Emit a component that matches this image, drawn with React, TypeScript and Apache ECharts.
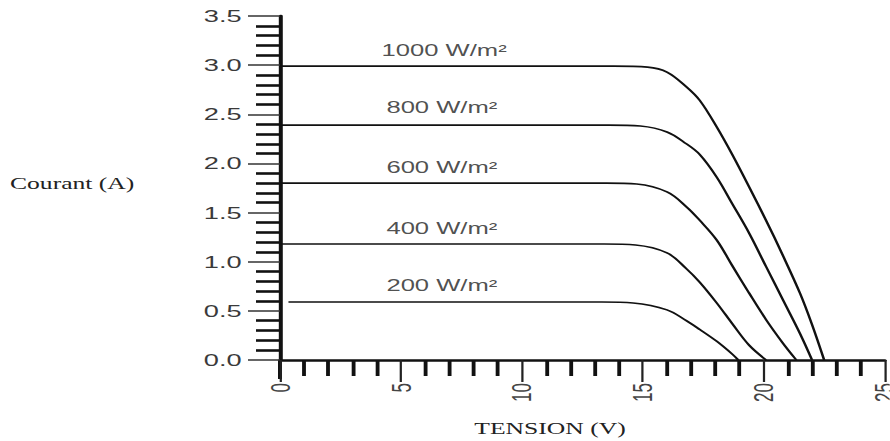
import React, { useEffect, useRef } from "react";
import * as echarts from "echarts";

const seriesNames = ["1000 W/m²", "800 W/m²", "600 W/m²", "400 W/m²", "200 W/m²"];
const curve1000 = [[0, 2.99], [13.8, 2.99], [15.2, 2.98], [16.0, 2.93], [16.8, 2.78], [17.36, 2.64], [18.06, 2.37], [18.7, 2.09], [19.4, 1.76], [20.1, 1.42], [20.8, 1.06], [21.5, 0.68], [22.0, 0.36], [22.5, 0]];
const curve800 = [[0, 2.39], [13.6, 2.39], [14.9, 2.38], [16.0, 2.32], [16.8, 2.2], [17.36, 2.09], [18.06, 1.86], [18.7, 1.59], [19.4, 1.29], [20.1, 0.95], [20.8, 0.61], [21.5, 0.27], [22.0, 0]];
const curve600 = [[0, 1.8], [13.5, 1.8], [14.75, 1.79], [16.0, 1.71], [16.8, 1.56], [17.36, 1.42], [18.06, 1.22], [18.7, 0.96], [19.4, 0.68], [20.1, 0.41], [20.8, 0.17], [21.35, 0]];
const curve400 = [[0, 1.18], [13.4, 1.18], [14.7, 1.17], [16.0, 1.09], [16.8, 0.93], [17.36, 0.79], [18.06, 0.58], [18.7, 0.37], [19.4, 0.15], [20.1, 0]];
const curve200 = [[0.35, 0.59], [13.3, 0.59], [14.6, 0.58], [16.0, 0.51], [16.8, 0.4], [17.36, 0.31], [18.06, 0.19], [18.7, 0.06], [18.95, 0]];
const curves = [curve1000, curve800, curve600, curve400, curve200];
const labelPoints = [[4.2, 3.15], [4.4, 2.57], [4.4, 1.96], [4.4, 1.34], [4.4, 0.76]];

const SX = 1.6;
const W = 890 / SX;

export default function App() {
  const ref = useRef<HTMLDivElement>(null);
  useEffect(() => {
    const chart = echarts.init(ref.current!, null, { renderer: "svg" });
    const series: any[] = curves.map((c, i) => ({
      name: seriesNames[i],
      type: "line",
      data: c,
      smooth: 0.35,
      showSymbol: false,
      symbol: "none",
      lineStyle: { color: "#111", width: 1.6 },
    }));
    series.push({
      type: "scatter",
      data: labelPoints.map((p, i) => ({ value: p, name: seriesNames[i] })),
      symbolSize: 0,
      label: {
        show: true,
        position: "right",
        distance: 0,
        formatter: (p: any) => p.name,
        color: "#222",
        fontFamily: "Liberation Sans, Arial, sans-serif",
        fontSize: 16,
      },
      silent: true,
    });
    chart.setOption({
      animation: false,
      grid: { left: 280 / SX, right: 5 / SX, top: 16, bottom: 81, outerBoundsMode: "none", containLabel: false },
      xAxis: {
        type: "value",
        min: 0,
        max: 25,
        interval: 5,
        axisLine: { show: true, lineStyle: { color: "#111", width: 2.5 } },
        axisTick: { show: true, length: 22, lineStyle: { color: "#222", width: 1.4 } },
        minorTick: { show: true, splitNumber: 5, length: 16, lineStyle: { color: "#111", width: 2.4 } },
        splitLine: { show: false },
        axisLabel: {
          rotate: 90,
          margin: 23,
          color: "#444",
          fontFamily: "Liberation Sans, Arial, sans-serif",
          fontSize: 17,
        },
      },
      yAxis: {
        type: "value",
        min: 0,
        max: 3.5,
        interval: 0.5,
        axisLine: { show: true, lineStyle: { color: "#111", width: 2.5 } },
        axisTick: { show: true, length: 20, lineStyle: { color: "#333", width: 1.5 } },
        minorTick: { show: true, splitNumber: 5, length: 15, lineStyle: { color: "#111", width: 2.6 } },
        splitLine: { show: false },
        axisLabel: {
          margin: 24,
          color: "#3a3a3a",
          fontFamily: "Liberation Sans, Arial, sans-serif",
          fontSize: 17,
          formatter: (v: number) => v.toFixed(1),
        },
      },
      graphic: [
        {
          type: "text",
          left: 10 / SX,
          top: 176,
          style: { text: "Courant (A)", fill: "#222", font: "16px 'Liberation Serif', 'Times New Roman', serif" },
        },
        {
          type: "text",
          x: 550 / SX,
          y: 421,
          style: { text: "TENSION (V)", fill: "#222", align: "center", font: "16px 'Liberation Serif', 'Times New Roman', serif" },
        },
        {
          type: "line",
          shape: { x1: 280 / SX, y1: 360, x2: 280 / SX, y2: 379 },
          style: { stroke: "#111", lineWidth: 2.5 },
        },
      ],
      series,
    });
    return () => chart.dispose();
  }, []);
  return (
    <div
      ref={ref}
      style={{
        position: "fixed",
        left: 0,
        top: 0,
        width: W,
        height: 441,
        background: "#fff",
        transform: `scaleX(${SX})`,
        transformOrigin: "0 0",
      }}
    />
  );
}
